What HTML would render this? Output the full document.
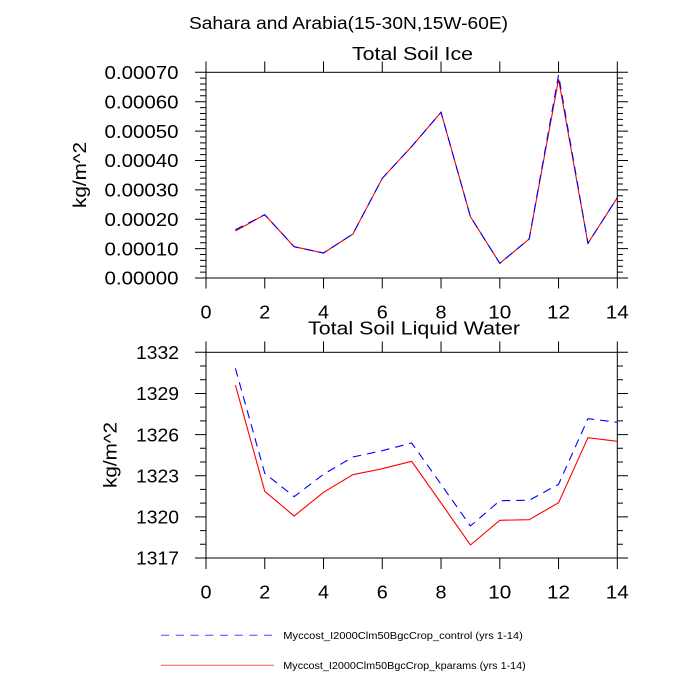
<!DOCTYPE html>
<html>
<head>
<meta charset="utf-8">
<style>
html,body{margin:0;padding:0;background:#fff;}
svg{display:block;}
text{font-family:"Liberation Sans",Arial,sans-serif;fill:#000;}
</style>
</head>
<body>
<svg width="700" height="700" viewBox="0 0 700 700" xmlns="http://www.w3.org/2000/svg">
<rect width="700" height="700" fill="#fff"/>

<!-- Main title -->
<text x="348.5" y="29" font-size="17.5" text-anchor="middle" textLength="319" lengthAdjust="spacingAndGlyphs">Sahara and Arabia(15-30N,15W-60E)</text>

<!-- ============ TOP PLOT ============ -->
<text x="412.5" y="60" font-size="18.5" text-anchor="middle" textLength="121" lengthAdjust="spacingAndGlyphs">Total Soil Ice</text>
<text x="0" y="0" font-size="18.5" text-anchor="middle" textLength="66" lengthAdjust="spacingAndGlyphs" transform="translate(86,175) rotate(-90)">kg/m^2</text>

<rect x="206" y="72.3" width="411.3" height="205.7" fill="none" stroke="#000" stroke-width="1"/>
<!-- y ticks -->
<path fill="none" stroke="#000" stroke-width="1" d="
M195 72.3H206 M195 101.69H206 M195 131.07H206 M195 160.46H206 M195 189.84H206 M195 219.23H206 M195 248.61H206 M195 278H206
M617 72.3H628 M617 101.69H628 M617 131.07H628 M617 160.46H628 M617 189.84H628 M617 219.23H628 M617 248.61H628 M617 278H628
M200 78.18H206 M200 84.05H206 M200 89.93H206 M200 95.81H206
M200 107.57H206 M200 113.44H206 M200 119.32H206 M200 125.2H206
M200 136.95H206 M200 142.82H206 M200 148.7H206 M200 154.58H206
M200 166.34H206 M200 172.21H206 M200 178.09H206 M200 183.97H206
M200 195.72H206 M200 201.59H206 M200 207.47H206 M200 213.35H206
M200 225.11H206 M200 230.98H206 M200 236.86H206 M200 242.74H206
M200 254.49H206 M200 260.36H206 M200 266.24H206 M200 272.12H206
M617 78.18H623 M617 84.05H623 M617 89.93H623 M617 95.81H623
M617 107.57H623 M617 113.44H623 M617 119.32H623 M617 125.2H623
M617 136.95H623 M617 142.82H623 M617 148.7H623 M617 154.58H623
M617 166.34H623 M617 172.21H623 M617 178.09H623 M617 183.97H623
M617 195.72H623 M617 201.59H623 M617 207.47H623 M617 213.35H623
M617 225.11H623 M617 230.98H623 M617 236.86H623 M617 242.74H623
M617 254.49H623 M617 260.36H623 M617 266.24H623 M617 272.12H623
"/>
<!-- x ticks -->
<path fill="none" stroke="#000" stroke-width="1" d="
M206 61.5V72.3 M264.76 61.5V72.3 M323.52 61.5V72.3 M382.28 61.5V72.3 M441.04 61.5V72.3 M499.8 61.5V72.3 M558.56 61.5V72.3 M617.32 61.5V72.3
M206 278V288.5 M264.76 278V288.5 M323.52 278V288.5 M382.28 278V288.5 M441.04 278V288.5 M499.8 278V288.5 M558.56 278V288.5 M617.32 278V288.5
"/>
<!-- y labels -->
<g font-size="18.5" text-anchor="end">
<text x="178.5" y="79" textLength="74" lengthAdjust="spacingAndGlyphs">0.00070</text>
<text x="178.5" y="108.4" textLength="74" lengthAdjust="spacingAndGlyphs">0.00060</text>
<text x="178.5" y="137.8" textLength="74" lengthAdjust="spacingAndGlyphs">0.00050</text>
<text x="178.5" y="167.2" textLength="74" lengthAdjust="spacingAndGlyphs">0.00040</text>
<text x="178.5" y="196.5" textLength="74" lengthAdjust="spacingAndGlyphs">0.00030</text>
<text x="178.5" y="225.9" textLength="74" lengthAdjust="spacingAndGlyphs">0.00020</text>
<text x="178.5" y="255.3" textLength="74" lengthAdjust="spacingAndGlyphs">0.00010</text>
<text x="178.5" y="284.7" textLength="74" lengthAdjust="spacingAndGlyphs">0.00000</text>
</g>
<!-- x labels -->
<g font-size="18.5" text-anchor="middle">
<text x="206" y="318.5" textLength="11" lengthAdjust="spacingAndGlyphs">0</text>
<text x="264.76" y="318.5" textLength="11" lengthAdjust="spacingAndGlyphs">2</text>
<text x="323.52" y="318.5" textLength="11" lengthAdjust="spacingAndGlyphs">4</text>
<text x="382.28" y="318.5" textLength="11" lengthAdjust="spacingAndGlyphs">6</text>
<text x="441.04" y="318.5" textLength="11" lengthAdjust="spacingAndGlyphs">8</text>
<text x="499.8" y="318.5" textLength="23" lengthAdjust="spacingAndGlyphs">10</text>
<text x="558.56" y="318.5" textLength="23" lengthAdjust="spacingAndGlyphs">12</text>
<text x="617.32" y="318.5" textLength="23" lengthAdjust="spacingAndGlyphs">14</text>
</g>
<!-- data top -->
<polyline fill="none" stroke="#ff0000" stroke-width="1.1"
 points="235.38,231 264.76,214.7 294.14,246.7 323.52,253 352.9,234 382.28,178.3 411.66,146.5 441.04,112.3 470.42,216.7 499.8,263.3 529.18,239 558.56,79.3 587.94,243.3 617.32,197.7"/>
<polyline fill="none" stroke="#0000ff" stroke-width="1.1" stroke-dasharray="8.5 6"
 points="235.38,229.7 264.76,214.7 294.14,246.7 323.52,253 352.9,234 382.28,178.3 411.66,146.5 441.04,112.3 470.42,216.7 499.8,263.3 529.18,239 558.56,75 587.94,243.3 617.32,197.7"/>

<!-- ============ BOTTOM PLOT ============ -->
<text x="414" y="334.3" font-size="18.5" text-anchor="middle" textLength="212" lengthAdjust="spacingAndGlyphs">Total Soil Liquid Water</text>
<text x="0" y="0" font-size="18.5" text-anchor="middle" textLength="66" lengthAdjust="spacingAndGlyphs" transform="translate(116.5,455) rotate(-90)">kg/m^2</text>

<rect x="206" y="352.3" width="411.3" height="205.7" fill="none" stroke="#000" stroke-width="1"/>
<path fill="none" stroke="#000" stroke-width="1" d="
M195 352.3H206 M195 393.44H206 M195 434.58H206 M195 475.72H206 M195 516.86H206 M195 558H206
M617 352.3H628 M617 393.44H628 M617 434.58H628 M617 475.72H628 M617 516.86H628 M617 558H628
M200 366.01H206 M200 379.73H206 M200 407.15H206 M200 420.87H206 M200 448.29H206 M200 462.01H206 M200 489.43H206 M200 503.15H206 M200 530.57H206 M200 544.29H206
M617 366.01H623 M617 379.73H623 M617 407.15H623 M617 420.87H623 M617 448.29H623 M617 462.01H623 M617 489.43H623 M617 503.15H623 M617 530.57H623 M617 544.29H623
"/>
<path fill="none" stroke="#000" stroke-width="1" d="
M206 341.5V352.3 M264.76 341.5V352.3 M323.52 341.5V352.3 M382.28 341.5V352.3 M441.04 341.5V352.3 M499.8 341.5V352.3 M558.56 341.5V352.3 M617.32 341.5V352.3
M206 558V569 M264.76 558V569 M323.52 558V569 M382.28 558V569 M441.04 558V569 M499.8 558V569 M558.56 558V569 M617.32 558V569
"/>
<g font-size="18.5" text-anchor="end">
<text x="179" y="359" textLength="43" lengthAdjust="spacingAndGlyphs">1332</text>
<text x="179" y="400.1" textLength="43" lengthAdjust="spacingAndGlyphs">1329</text>
<text x="179" y="441.3" textLength="43" lengthAdjust="spacingAndGlyphs">1326</text>
<text x="179" y="482.4" textLength="43" lengthAdjust="spacingAndGlyphs">1323</text>
<text x="179" y="523.6" textLength="43" lengthAdjust="spacingAndGlyphs">1320</text>
<text x="179" y="564.7" textLength="43" lengthAdjust="spacingAndGlyphs">1317</text>
</g>
<g font-size="18.5" text-anchor="middle">
<text x="206" y="598.5" textLength="11" lengthAdjust="spacingAndGlyphs">0</text>
<text x="264.76" y="598.5" textLength="11" lengthAdjust="spacingAndGlyphs">2</text>
<text x="323.52" y="598.5" textLength="11" lengthAdjust="spacingAndGlyphs">4</text>
<text x="382.28" y="598.5" textLength="11" lengthAdjust="spacingAndGlyphs">6</text>
<text x="441.04" y="598.5" textLength="11" lengthAdjust="spacingAndGlyphs">8</text>
<text x="499.8" y="598.5" textLength="23" lengthAdjust="spacingAndGlyphs">10</text>
<text x="558.56" y="598.5" textLength="23" lengthAdjust="spacingAndGlyphs">12</text>
<text x="617.32" y="598.5" textLength="23" lengthAdjust="spacingAndGlyphs">14</text>
</g>
<polyline fill="none" stroke="#0000ff" stroke-width="1.1" stroke-dasharray="8.5 6"
 points="235.38,368.3 264.76,473.3 294.14,496.7 323.52,474.3 352.9,457 382.28,450.7 411.66,443 441.04,484.3 470.42,526 499.8,500.7 529.18,500.3 558.56,484.3 587.94,418.7 617.32,422.3"/>
<polyline fill="none" stroke="#ff0000" stroke-width="1.1"
 points="235.38,385 264.76,491.3 294.14,516 323.52,492.3 352.9,474.7 382.28,468.7 411.66,461.3 441.04,503 470.42,545 499.8,520.3 529.18,519.7 558.56,502.7 587.94,437.7 617.32,441.3"/>

<!-- ============ LEGEND ============ -->
<line x1="161" y1="635.3" x2="274" y2="635.3" stroke="#4a4aff" stroke-width="1" stroke-dasharray="8.3 6.4"/>
<text x="283.3" y="638.8" font-size="10.5" textLength="239.5" lengthAdjust="spacingAndGlyphs">Myccost_I2000Clm50BgcCrop_control (yrs 1-14)</text>
<line x1="161" y1="665.3" x2="274" y2="665.3" stroke="#ff5555" stroke-width="1"/>
<text x="283.3" y="668.8" font-size="10.5" textLength="242.5" lengthAdjust="spacingAndGlyphs">Myccost_I2000Clm50BgcCrop_kparams (yrs 1-14)</text>
</svg>
</body>
</html>
